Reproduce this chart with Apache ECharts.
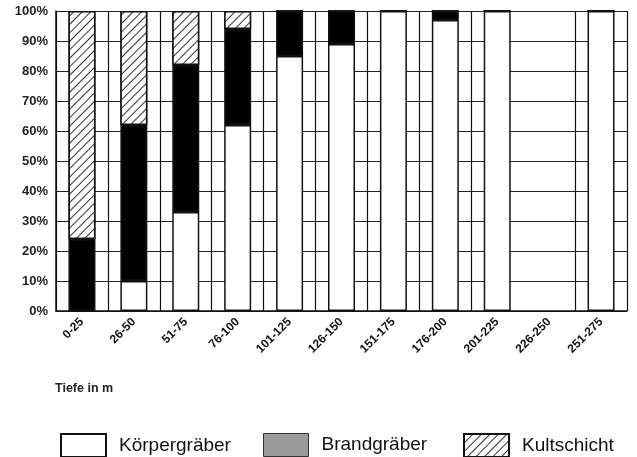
<!DOCTYPE html>
<html>
<head>
<meta charset="utf-8">
<script src="https://cdn.jsdelivr.net/npm/echarts@6/dist/echarts.min.js"></script>
<style>
	html, body { margin: 0; padding: 0; background: #fff; }
	#chart { width: 637px; height: 457px; }
</style>
</head>
<body>
<div id="chart"></div>
<script>
	// Tiefenstufen (m)
	const categories = ['0-25', '26-50', '51-75', '76-100', '101-125', '126-150', '151-175', '176-200', '201-225', '226-250', '251-275']
	// Anteile in %
	const koerper = [0, 10, 33, 62, 85, 89, 100, 97, 100, '-', 100]
	const brand = [24, 52, 49, 32, 15, 11, 0, 3, 0, '-', 0]
	const kult = [76, 38, 18, 6, 0, 0, 0, 0, 0, '-', 0]
	const yTicks = [0, 10, 20, 30, 40, 50, 60, 70, 80, 90, 100]

	const axisFont = 'Liberation Sans, Arial, sans-serif'
	const border = { borderColor: '#111', borderWidth: 1.5 }
	const legendText = { fontSize: 19, color: '#111', fontFamily: 'Liberation Sans, Arial', padding: [0, 0, 0, 8] }

	let myChart = echarts.init(document.getElementById('chart'))
	myChart.setOption({
		animation: false,
		backgroundColor: '#fff',
		grid: { left: 56, right: 10, top: 11, bottom: 146 },
		legend: [
			{ left: 55, top: 428, itemWidth: 45, itemHeight: 23, icon: 'rect', data: [{ name: 'Körpergräber' }], textStyle: legendText },
			{ left: 258, top: 428, itemWidth: 45, itemHeight: 23, icon: 'rect',
				data: [{ name: 'Brandgräber', itemStyle: { color: '#9a9a9a', borderColor: '#333', borderWidth: 1 } }],
				textStyle: legendText },
			{ left: 458, top: 428, itemWidth: 45, itemHeight: 23, icon: 'rect', data: [{ name: 'Kultschicht' }], textStyle: legendText }
		],
		graphic: [{
			type: 'text', left: 55, top: 382,
			style: { text: 'Tiefe in m', fontSize: 12.5, fontWeight: 'bold', fontFamily: axisFont, fill: '#222' }
		}],
		xAxis: {
			type: 'category',
			data: categories,
			axisLine: { lineStyle: { color: '#111', width: 1.5 } },
			axisTick: { show: false },
			axisLabel: { rotate: 45, interval: 0, margin: 9, fontSize: 12, fontWeight: 'bold', fontFamily: axisFont, color: '#111' },
			splitLine: { show: true, interval: (i) => i !== 9, lineStyle: { color: '#111', width: 1.2 } }
		},
		yAxis: {
			type: 'value',
			min: 0,
			max: 100,
			interval: 10,
			axisLine: { show: true, lineStyle: { color: '#111', width: 1.5 } },
			axisTick: { show: false },
			axisLabel: { formatter: (v) => yTicks.includes(v) ? v + '%' : '', fontSize: 13, fontWeight: 'bold', fontFamily: axisFont, color: '#222', margin: 8 },
			splitLine: { lineStyle: { color: '#222', width: 1.2 } }
		},
		series: [{
			name: 'Körpergräber',
			type: 'bar',
			stack: 'total',
			barWidth: 27,
			data: koerper,
			itemStyle: Object.assign({ color: '#fff' }, border)
		}, {
			name: 'Brandgräber',
			type: 'bar',
			stack: 'total',
			data: brand,
			itemStyle: Object.assign({ color: '#000' }, border)
		}, {
			name: 'Kultschicht',
			type: 'bar',
			stack: 'total',
			data: kult,
			itemStyle: Object.assign({
				color: '#fff',
				decal: {
					symbol: 'rect',
					color: '#333',
					backgroundColor: '#fff',
					dashArrayX: [1, 0],
					dashArrayY: [1, 5],
					rotation: -Math.PI / 4
				}
			}, border)
		}]
	})
</script>
</body>
</html>
